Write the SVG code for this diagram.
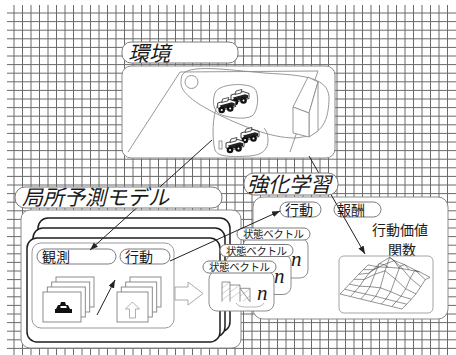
<svg xmlns="http://www.w3.org/2000/svg" width="456" height="355" viewBox="0 0 456 355">
  <style>
    .grid { fill: none; stroke: #6a6a6a; stroke-width: 1; }
    .panel { fill: #fff; stroke: #8a8a8a; stroke-width: 1; }
    .tab { fill: #fff; stroke: #7a7a7a; stroke-width: 1; }
    .frame { fill: #fff; stroke: #1e1e1e; stroke-width: 1.5; }
    .card { fill: #fff; stroke: #808080; stroke-width: 0.9; }
    .sketch { fill: none; stroke: #8c8c8c; stroke-width: 0.9; }
    .title { font-family: "Noto Sans CJK JP", "Noto Sans CJK SC", sans-serif; font-style: italic; font-size: 21px; fill: #1a1a1a; }
    .lbl { font-family: "Noto Sans CJK JP", "Noto Sans CJK SC", sans-serif; font-size: 14px; fill: #1a1a1a; }
    .small { font-family: "Noto Sans CJK JP", "Noto Sans CJK SC", sans-serif; font-size: 10.5px; fill: #1a1a1a; }
    .n { font-family: "Liberation Serif", serif; font-style: italic; font-size: 21px; fill: #1a1a1a; }
    .conn { fill: none; stroke: #222; stroke-width: 1; }
    .mesh { fill: none; stroke: #3a3a3a; stroke-width: 0.55; }
    .hatch { stroke: #b0b0b0; stroke-width: 0.6; }
  </style>
  <defs>
    <marker id="arrow" markerUnits="userSpaceOnUse" markerWidth="9" markerHeight="7" refX="8" refY="3" orient="auto">
      <path d="M0,0 L8,3 L0,6 Z" fill="#222"/>
    </marker>
    <!-- small robot vehicle used in the environment scene -->
    <g id="car">
      <path d="M1 4 L13 0.5 L19 2.5 L19 7.5 L6 11 L1 9 Z" fill="#fff" stroke="#111" stroke-width="0.8"/>
      <path d="M3 6.5 L15 3.2 L18 4.2 L18 7 L5.5 10.2 Z" fill="#222"/>
      <path d="M5 3.5 L11 2 L12 -1.5 L6 0 Z" fill="#fff" stroke="#111" stroke-width="0.7"/>
      <circle cx="5" cy="11" r="3.3" fill="#111"/>
      <circle cx="5" cy="11" r="1" fill="#fff"/>
      <circle cx="13.5" cy="9.5" r="3.3" fill="#111"/>
      <circle cx="13.5" cy="9.5" r="1" fill="#fff"/>
    </g>
  </defs>

  <!-- background grid -->
  <path class="grid" d="M14 5V355M22.5 5V355M31 5V355M39.5 5V355M48 5V355M56.5 5V355M65 5V355M73.5 5V355M82 5V355M90.5 5V355M99 5V355M107.5 5V355M116 5V355M124.5 5V355M133 5V355M141.5 5V355M150 5V355M158.5 5V355M167 5V355M175.5 5V355M184 5V355M192.5 5V355M201 5V355M209.5 5V355M218 5V355M226.5 5V355M235 5V355M243.5 5V355M252 5V355M260.5 5V355M269 5V355M277.5 5V355M286 5V355M294.5 5V355M303 5V355M311.5 5V355M320 5V355M328.5 5V355M337 5V355M345.5 5V355M354 5V355M362.5 5V355M371 5V355M379.5 5V355M388 5V355M396.5 5V355M405 5V355M413.5 5V355M422 5V355M430.5 5V355M439 5V355M447.5 5V355"/>
  <path class="grid" d="M7 13H456M7 21.6H456M7 30.2H456M7 38.8H456M7 47.4H456M7 56H456M7 64.6H456M7 73.2H456M7 81.8H456M7 90.4H456M7 99H456M7 107.6H456M7 116.2H456M7 124.8H456M7 133.4H456M7 142H456M7 150.6H456M7 159.2H456M7 167.8H456M7 176.4H456M7 185H456M7 193.6H456M7 202.2H456M7 210.8H456M7 219.4H456M7 228H456M7 236.6H456M7 245.2H456M7 253.8H456M7 262.4H456M7 271H456M7 279.6H456M7 288.2H456M7 296.8H456M7 305.4H456M7 314H456M7 322.6H456M7 331.2H456M7 339.8H456M7 348.4H456"/>

  <!-- environment -->
  <g id="env">
    <rect class="tab" x="122" y="42" width="116" height="21" rx="9"/>
    <text class="title" x="128" y="61">環境</text>
    <rect class="panel" x="122" y="66" width="213" height="92" rx="9"/>
    <!-- floor -->
    <path class="sketch" d="M128 152 L180 72 L318 71 L290 152"/>
    <!-- field of view -->
    <path class="sketch" d="M185 72 C200 64 240 72 280 74 C310 76 330 80 329 100 C328 125 320 136 295 138 C270 138 240 125 215 113 C195 103 180 92 181 82 C181 77 182 74 185 72 Z" fill="#fff"/>
    <circle class="sketch" cx="191.5" cy="82" r="6.5"/>
    <!-- box obstacle -->
    <path d="M293 107 L308 77 L318 82 L309 113 Z" fill="#fff" stroke="#8c8c8c" stroke-width="0.9"/>
    <path d="M309 113 L318 82 L318 131 L309 137 Z" fill="#fff" stroke="#8c8c8c" stroke-width="0.9"/>
    <path d="M293 107 L309 113 L309 137 L293 133 Z" fill="#fff" stroke="#8c8c8c" stroke-width="0.9"/>
    <!-- vehicle groups -->
    <path class="sketch" d="M215 93 C218 84 245 82 254 88 C260 93 258 112 252 116 C246 120 225 118 218 113 C212 108 213 98 215 93 Z" fill="#fff"/>
    <path class="sketch" d="M218 104 C212 115 212 140 215 150 C218 157 230 157 250 156 C262 155 268 150 268 140 C268 134 266 130 264 128"/>
    <use href="#car" x="230" y="91"/>
    <use href="#car" x="216.7" y="99"/>
    <use href="#car" x="240" y="129"/>
    <rect x="219" y="141" width="3" height="8" fill="#fff" stroke="#555" stroke-width="0.6"/>
    <use href="#car" x="225" y="139"/>
  </g>

  <!-- local prediction model body -->
  <g id="local-model">
    <rect class="panel" x="21" y="210" width="220" height="138" rx="9"/>
    <rect class="frame" x="38" y="218" width="192" height="114" rx="10"/>
    <rect class="frame" x="33" y="228" width="192" height="109" rx="10"/>
    <rect class="frame" x="27" y="238" width="193" height="104" rx="10"/>
    <rect x="32" y="243" width="142" height="85" rx="9" fill="#fff" stroke="#9a9a9a" stroke-width="1"/>
    <rect class="tab" x="37" y="249" width="79" height="15" rx="7.5"/>
    <text class="lbl" x="42" y="261.5">観測</text>
    <rect class="tab" x="120" y="249" width="50" height="15" rx="7.5"/>
    <text class="lbl" x="125" y="261.5">行動</text>
    <!-- observation images -->
    <rect class="card" x="56" y="277" width="38" height="30"/>
    <rect class="card" x="51.7" y="282" width="38" height="30"/>
    <rect class="card" x="47.3" y="287" width="38" height="30"/>
    <rect class="card" x="43" y="292" width="38" height="30"/>
    <path d="M55 313 H72 V309 H70 L68 305 H66 L65 302 H61 L60 305 H58 L56 309 H55 Z" fill="#111"/>
    <rect x="60.5" y="306" width="6" height="2" fill="#fff"/>
    <!-- action images -->
    <rect class="card" x="130" y="277" width="31" height="30"/>
    <rect class="card" x="125.7" y="282" width="31" height="30"/>
    <rect class="card" x="121.3" y="287" width="31" height="30"/>
    <rect class="card" x="117" y="292" width="31" height="30"/>
    <path d="M132.5 302 L125.5 309 H129.5 V318 H135.5 V309 H139.5 Z" fill="#fff" stroke="#999" stroke-width="0.8"/>
    <!-- transfer arrow -->
    <path d="M175 287 H188 V282 L203 293.5 L188 305 V300 H175 Z" fill="#fff" stroke="#a0a0a0" stroke-width="0.9"/>
  </g>

  <!-- reinforcement learning body -->
  <g id="rl">
    <rect class="panel" x="253" y="197" width="195" height="122" rx="10"/>
    <rect class="tab" x="280" y="202" width="41" height="15" rx="7.5"/>
    <text class="lbl" x="285" y="214.5">行動</text>
    <rect class="tab" x="334" y="202" width="47" height="15" rx="7.5"/>
    <text class="lbl" x="337" y="214.5">報酬</text>
    <text class="lbl" x="400" y="235" text-anchor="middle" font-size="13.5">行動価値</text>
    <text class="lbl" x="402" y="254.5" text-anchor="middle" font-size="13">関数</text>
    <rect x="339" y="256" width="94" height="57" rx="5" fill="#fff" stroke="#9a9a9a" stroke-width="0.9"/>
    <!-- action value surface -->
    <g class="mesh">
      <polyline points="340,294 344.7,289.2 349.3,284.2 354,279.3 358.7,274.3 363.3,269.6 368,264.9"/>
      <polyline points="350.3,296.5 355,291.7 359.7,286.2 364.3,279.4 369,273.2 373.7,269.7 378.3,266.9"/>
      <polyline points="360.7,299 365.3,294 370,286.7 374.7,274.3 379.3,263.6 384,264.6 388.7,267.4"/>
      <polyline points="371,301.5 375.7,296.3 380.3,287.8 385,270.8 389.7,257.3 394.3,260.6 399,268.2"/>
      <polyline points="381.3,304 386,299 390.7,291.7 395.3,279 400,266.1 404.7,264.7 409.3,269.9"/>
      <polyline points="391.7,306.5 396.3,301.6 401,296.2 405.7,288.8 410.3,278.2 415,270.1 419.7,271.9"/>
      <polyline points="402,309 406.7,304.2 411.3,299.2 416,293.9 420.7,286.7 425.3,279.6 430,277.4"/>
      <polyline points="340,294 350.3,296.5 360.7,299 371,301.5 381.3,304 391.7,306.5 402,309"/>
      <polyline points="344.7,289.2 355,291.7 365.3,294 375.7,296.3 386,299 396.3,301.6 406.7,304.2"/>
      <polyline points="349.3,284.2 359.7,286.2 370,286.7 380.3,287.8 390.7,291.7 401,296.2 411.3,299.2"/>
      <polyline points="354,279.3 364.3,279.4 374.7,274.3 385,270.8 395.3,279 405.7,288.8 416,293.9"/>
      <polyline points="358.7,274.3 369,273.2 379.3,263.6 389.7,257.3 400,266.1 410.3,278.2 420.7,286.7"/>
      <polyline points="363.3,269.6 373.7,269.7 384,264.6 394.3,260.6 404.7,264.7 415,270.1 425.3,279.6"/>
      <polyline points="368,264.9 378.3,266.9 388.7,267.4 399,268.2 409.3,269.9 419.7,271.9 430,277.4"/>
    </g>
  </g>

  <!-- state vectors -->
  <g id="state-vectors">
    <rect class="card" x="243" y="238" width="65" height="40" rx="8"/>
    <rect class="tab" x="237" y="228" width="73" height="12" rx="6"/>
    <text class="small" x="243" y="238" textLength="61">状態ベクトル</text>
    <text class="n" x="291" y="266">n</text>

    <rect class="card" x="226" y="254.5" width="65" height="40" rx="8"/>
    <rect class="tab" x="220" y="244.5" width="73" height="12" rx="6"/>
    <text class="small" x="226" y="254.5" textLength="61">状態ベクトル</text>
    <text class="n" x="274" y="283">n</text>

    <rect class="card" x="209" y="271" width="65" height="40" rx="8"/>
    <rect class="tab" x="203" y="261" width="73" height="12" rx="6"/>
    <text class="small" x="209" y="271" textLength="61">状態ベクトル</text>
    <text class="n" x="257" y="300">n</text>
    <path class="hatch" d="M222 288 L230 282 M222 294 L230 288 M222 300 L230 294 M230 292 L240 285 M230 299 L240 292 M240 296 L250 289 M243 301 L250 296"/>
    <path d="M222 301.7 V282 H230 V301.7 M230 285 H240 V301.7 M240 288.3 H250 V301.7 Z" fill="none" stroke="#777" stroke-width="0.8"/>
    <path d="M236 303 Q238 307 244 307 H256 Q262 307 264 303" fill="none" stroke="#999" stroke-width="0.7"/>
  </g>

  <!-- connectors -->
  <g id="connectors">
    <line class="conn" x1="212" y1="140" x2="90" y2="250" marker-end="url(#arrow)"/>
    <line class="conn" x1="309" y1="156" x2="365" y2="254" marker-end="url(#arrow)"/>
    <line class="conn" x1="170" y1="261" x2="280" y2="211" marker-end="url(#arrow)"/>
    <line class="conn" x1="97" y1="315" x2="115" y2="280" marker-end="url(#arrow)"/>
  </g>

  <!-- titles drawn above the connectors -->
  <g id="local-model-title">
    <rect class="tab" x="15" y="187" width="207" height="21" rx="10"/>
    <text class="title" x="22" y="205">局所予測モデル</text>
  </g>
  <g id="rl-title">
    <rect class="tab" x="244" y="173" width="94" height="22" rx="10"/>
    <text class="title" x="247" y="192" font-size="22">強化学習</text>
  </g>
</svg>
